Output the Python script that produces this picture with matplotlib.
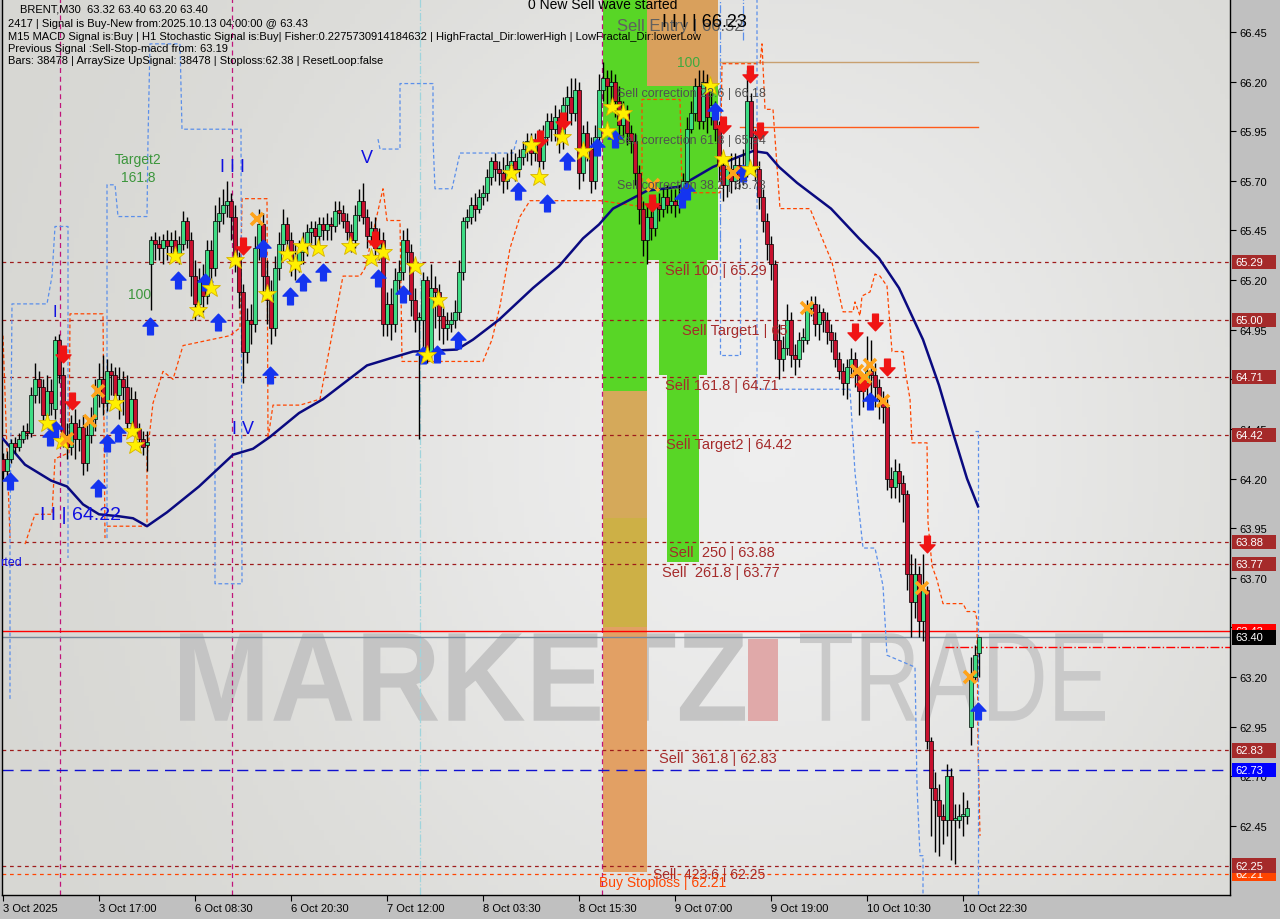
import numpy as np
import matplotlib
matplotlib.use("Agg")
import matplotlib.pyplot as plt
from matplotlib.patches import Rectangle, PathPatch
from matplotlib.path import Path
from matplotlib.textpath import TextPath
from matplotlib.font_manager import FontProperties
from matplotlib.transforms import blended_transform_factory, Affine2D
from matplotlib.colors import LinearSegmentedColormap

plt.rcParams['font.family'] = ['Liberation Sans', 'DejaVu Sans']

# BRENT M30 candles (bar index 0 = 3 Oct)
opens = [64.30, 64.24, 64.30, 64.38, 64.36, 64.40, 64.44, 64.43, 64.62, 64.70,
         64.66, 64.52, 64.64, 64.55, 64.90, 64.72, 64.42, 64.36, 64.48, 64.40,
         64.46, 64.28, 64.42, 64.50, 64.62, 64.70, 64.58, 64.74, 64.72, 64.62,
         64.70, 64.66, 64.48, 64.60, 64.45, 64.40, 64.37,
         65.28, 65.40, 65.38, 65.36, 65.40, 65.37, 65.40, 65.33, 65.38, 65.50,
         65.40, 65.22, 65.08, 65.20, 65.12, 65.35, 65.26, 65.50, 65.54, 65.58,
         65.60, 65.52, 65.30, 65.14, 64.84, 65.00, 64.98, 65.36, 65.48, 65.22,
         65.10, 64.96, 65.26, 65.38, 65.48, 65.40, 65.30, 65.28, 65.34, 65.38,
         65.44, 65.46, 65.42, 65.48, 65.45, 65.48, 65.47, 65.55, 65.54, 65.50,
         65.44, 65.40, 65.53, 65.60, 65.52, 65.42, 65.46, 65.36, 65.40, 64.98,
         65.08, 64.98, 65.20, 65.24, 65.40, 65.34, 65.10, 65.00, 65.00, 65.20,
         64.84, 65.16, 65.14, 65.02, 64.96, 64.98, 65.00, 65.04, 65.24, 65.50,
         65.52, 65.58, 65.56, 65.62, 65.64, 65.72, 65.80, 65.76, 65.74, 65.70,
         65.78, 65.80, 65.76, 65.82, 65.86, 65.90, 65.84, 65.88, 65.80, 65.92,
         66.00, 65.96, 66.02, 65.90, 66.08, 66.12, 66.04, 66.16, 65.74, 65.94,
         65.86, 65.70, 65.92, 66.16, 66.22, 66.18, 66.20, 66.10, 65.98, 66.04,
         65.94, 65.90, 65.74, 65.56, 65.40, 65.52, 65.46, 65.58, 65.56, 65.62,
         65.58, 65.60, 65.58, 65.62, 65.70, 65.96, 66.04, 66.18, 66.00, 66.20,
         66.02, 66.08, 65.96, 65.78, 65.68, 65.76, 65.70, 65.78, 65.72, 65.76,
         66.10, 65.92, 65.76, 65.62, 65.50, 65.38, 65.28, 64.90, 64.80, 64.86,
         65.00, 64.82, 64.80, 64.90, 64.90, 65.06, 65.08, 64.98, 65.04, 65.00,
         64.94, 64.90, 64.80, 64.74, 64.68, 64.76, 64.80, 64.72, 64.64, 64.68,
         64.74, 64.72, 64.66, 64.60, 64.56, 64.20, 64.16, 64.24, 64.18, 64.12,
         63.72, 63.58, 63.72, 63.48, 63.64, 62.88, 62.64, 62.58, 62.50, 62.48,
         62.70, 62.48, 62.48, 62.50, 62.50, 62.95, 63.20, 63.32]
closes = [64.24, 64.30, 64.38, 64.36, 64.40, 64.44, 64.43, 64.62, 64.70, 64.66,
          64.52, 64.64, 64.58, 64.90, 64.72, 64.42, 64.36, 64.48, 64.40, 64.46,
          64.28, 64.42, 64.50, 64.62, 64.70, 64.58, 64.74, 64.72, 64.62, 64.70,
          64.66, 64.48, 64.60, 64.45, 64.40, 64.36, 64.38,
          65.40, 65.38, 65.36, 65.40, 65.37, 65.40, 65.33, 65.38, 65.50, 65.40,
          65.22, 65.08, 65.20, 65.12, 65.35, 65.26, 65.50, 65.54, 65.58, 65.60,
          65.52, 65.30, 65.14, 64.84, 65.00, 64.98, 65.36, 65.48, 65.22, 65.10,
          64.96, 65.26, 65.38, 65.48, 65.40, 65.30, 65.28, 65.34, 65.38, 65.44,
          65.46, 65.42, 65.48, 65.45, 65.48, 65.47, 65.55, 65.54, 65.50, 65.44,
          65.40, 65.53, 65.60, 65.52, 65.42, 65.46, 65.36, 65.40, 64.98, 65.08,
          64.98, 65.20, 65.24, 65.40, 65.34, 65.10, 65.00, 65.00, 65.20, 64.84,
          65.16, 65.14, 65.02, 64.96, 64.98, 65.00, 65.04, 65.24, 65.50, 65.52,
          65.58, 65.56, 65.62, 65.64, 65.72, 65.80, 65.76, 65.74, 65.70, 65.78,
          65.80, 65.76, 65.82, 65.86, 65.90, 65.84, 65.88, 65.80, 65.92, 66.00,
          65.96, 66.02, 65.90, 66.08, 66.12, 66.04, 66.16, 65.74, 65.94, 65.86,
          65.70, 65.92, 66.16, 66.22, 66.18, 66.20, 66.10, 65.98, 66.04, 65.94,
          65.90, 65.74, 65.56, 65.40, 65.52, 65.46, 65.58, 65.56, 65.62, 65.58,
          65.60, 65.58, 65.62, 65.70, 65.96, 66.04, 66.18, 66.00, 66.20, 66.02,
          66.08, 65.96, 65.78, 65.68, 65.76, 65.70, 65.78, 65.72, 65.76, 66.10,
          65.92, 65.76, 65.62, 65.50, 65.38, 65.28, 64.90, 64.80, 64.86, 65.00,
          64.82, 64.80, 64.90, 64.90, 65.06, 65.08, 64.98, 65.04, 65.00, 64.94,
          64.90, 64.80, 64.74, 64.68, 64.76, 64.80, 64.72, 64.64, 64.68, 64.74,
          64.72, 64.66, 64.60, 64.56, 64.20, 64.16, 64.24, 64.18, 64.12, 63.72,
          63.58, 63.72, 63.48, 63.64, 62.88, 62.64, 62.58, 62.50, 62.48, 62.70,
          62.48, 62.48, 62.50, 62.50, 62.54, 63.20, 63.31, 63.40]
highs = [64.33, 64.34, 64.40, 64.41, 64.43, 64.47, 64.48, 64.66, 64.78, 64.74,
         64.70, 64.72, 64.70, 64.92, 64.93, 64.76, 64.48, 64.52, 64.55, 64.50,
         64.52, 64.48, 64.56, 64.70, 64.78, 64.82, 64.80, 64.78, 64.76, 64.76,
         64.74, 64.72, 64.66, 64.64, 64.48, 64.44, 64.44,
         65.42, 65.44, 65.42, 65.43, 65.45, 65.44, 65.45, 65.42, 65.55, 65.52,
         65.44, 65.30, 65.26, 65.28, 65.40, 65.40, 65.58, 65.62, 65.66, 65.70,
         65.64, 65.58, 65.34, 65.18, 65.06, 65.08, 65.42, 65.56, 65.54, 65.30,
         65.20, 65.32, 65.44, 65.56, 65.52, 65.44, 65.38, 65.40, 65.44, 65.48,
         65.50, 65.50, 65.52, 65.52, 65.54, 65.52, 65.60, 65.60, 65.58, 65.54,
         65.48, 65.58, 65.66, 65.69, 65.56, 65.50, 65.52, 65.46, 65.44, 65.14,
         65.16, 65.26, 65.30, 65.45, 65.46, 65.38, 65.16, 65.04, 65.24, 65.22,
         65.28, 65.22, 65.18, 65.06, 65.04, 65.04, 65.10, 65.30, 65.52, 65.56,
         65.62, 65.64, 65.66, 65.68, 65.76, 65.82, 65.84, 65.80, 65.82, 65.84,
         65.86, 65.84, 65.86, 65.90, 65.94, 65.94, 65.94, 65.96, 65.98, 66.04,
         66.04, 66.08, 66.06, 66.12, 66.18, 66.22, 66.22, 66.20, 65.98, 66.00,
         65.92, 65.98, 66.24, 66.30, 66.26, 66.26, 66.24, 66.18, 66.10, 66.08,
         65.98, 65.94, 65.78, 65.60, 65.58, 65.60, 65.62, 65.64, 65.66, 65.68,
         65.66, 65.66, 65.68, 65.74, 66.02, 66.10, 66.22, 66.26, 66.26, 66.24,
         66.14, 66.10, 66.00, 65.84, 65.80, 65.84, 65.84, 65.82, 65.86, 66.26,
         66.14, 65.96, 65.80, 65.66, 65.54, 65.42, 65.30, 64.98, 64.92, 65.08,
         65.04, 64.88, 64.94, 64.96, 65.10, 65.12, 65.12, 65.08, 65.06, 65.04,
         64.98, 64.94, 64.84, 64.78, 64.80, 64.86, 64.84, 64.76, 64.72, 64.92,
         64.90, 64.78, 64.70, 64.64, 64.60, 64.26, 64.30, 64.28, 64.22, 64.14,
         63.82, 63.80, 63.76, 63.82, 63.66, 62.90, 62.72, 62.66, 62.56, 62.76,
         62.74, 62.56, 62.56, 62.62, 62.58, 63.30, 63.36, 63.40]
lows = [64.20, 64.21, 64.28, 64.33, 64.34, 64.38, 64.40, 64.41, 64.58, 64.58,
        64.45, 64.48, 64.52, 64.50, 64.68, 64.36, 64.30, 64.32, 64.30, 64.34,
        64.22, 64.24, 64.38, 64.44, 64.56, 64.52, 64.54, 64.62, 64.56, 64.50,
        64.52, 64.44, 64.42, 64.40, 64.34, 64.32, 64.24,
        65.05, 65.30, 65.30, 65.28, 65.30, 65.32, 65.30, 65.28, 65.35, 65.36,
        65.12, 65.00, 65.02, 65.04, 65.08, 65.18, 65.22, 65.44, 65.48, 65.52,
        65.40, 65.24, 65.06, 64.68, 64.78, 64.88, 64.94, 65.30, 65.10, 64.98,
        64.88, 64.92, 65.20, 65.34, 65.34, 65.22, 65.20, 65.24, 65.28, 65.32,
        65.38, 65.36, 65.38, 65.40, 65.40, 65.40, 65.44, 65.48, 65.46, 65.40,
        65.34, 65.36, 65.50, 65.48, 65.36, 65.38, 65.30, 65.30, 64.92, 64.92,
        64.90, 64.94, 65.14, 65.20, 65.28, 65.02, 64.94, 64.40, 64.82, 64.78,
        64.80, 64.96, 64.90, 64.88, 64.90, 64.94, 64.96, 65.00, 65.20, 65.46,
        65.48, 65.50, 65.54, 65.58, 65.60, 65.68, 65.70, 65.68, 65.64, 65.66,
        65.72, 65.70, 65.72, 65.78, 65.80, 65.78, 65.80, 65.74, 65.76, 65.88,
        65.90, 65.90, 65.84, 65.86, 66.00, 65.98, 66.00, 65.66, 65.70, 65.80,
        65.64, 65.66, 65.88, 66.10, 66.08, 66.10, 66.02, 65.92, 65.92, 65.88,
        65.84, 65.68, 65.48, 65.32, 65.28, 65.40, 65.42, 65.50, 65.52, 65.54,
        65.54, 65.52, 65.54, 65.58, 65.66, 65.94, 66.00, 65.96, 65.96, 65.94,
        65.98, 65.90, 65.70, 65.60, 65.62, 65.64, 65.66, 65.66, 65.68, 65.72,
        65.86, 65.70, 65.56, 65.44, 65.30, 65.20, 64.80, 64.70, 64.74, 64.82,
        64.76, 64.72, 64.76, 64.84, 64.88, 65.02, 64.92, 64.90, 64.94, 64.88,
        64.84, 64.76, 64.70, 64.62, 64.60, 64.72, 64.66, 64.52, 64.56, 64.60,
        64.60, 64.56, 64.50, 64.48, 64.14, 64.10, 64.10, 64.08, 63.98, 63.64,
        63.40, 63.50, 63.40, 63.38, 62.84, 62.40, 62.32, 62.30, 62.36, 62.40,
        62.28, 62.26, 62.44, 62.40, 62.46, 62.86, 63.18, 63.20]

# moving average (read at knots)
ma_idx = [0, 5.5, 12, 16, 20, 24, 29, 32.5, 36, 41, 49, 57.5, 62.5, 66.75, 74, 80, 91, 97.5,
          102.5, 113.5, 117.5, 124, 132.5, 139, 145, 149, 152.5, 161, 169, 177.5, 182.5,
          187.5, 191, 194, 198.5, 207, 214, 219, 224, 230, 234, 237.5, 241, 243.75]
ma_val = [64.40, 64.27, 64.19, 64.16, 64.07, 64.02, 64.01, 64.00, 63.96, 64.03, 64.16, 64.32,
          64.35, 64.41, 64.53, 64.60, 64.77, 64.81, 64.84, 64.85, 64.90, 65.00, 65.16, 65.27,
          65.41, 65.48, 65.56, 65.65, 65.67, 65.77, 65.81, 65.85, 65.84, 65.77, 65.69, 65.56,
          65.41, 65.31, 65.16, 64.90, 64.67, 64.43, 64.20, 64.06]

sell_levels = [65.29, 65.00, 64.71, 64.42, 63.88, 63.77, 62.83, 62.25]
buy_stop = 62.21
ask_line = 63.43
bid_line = 63.40
sl_line = 63.35
blue_line = 62.73

tick_pos = [0, 24, 48, 72, 96, 120, 144, 168, 192, 216, 240]
tick_lab = ["3 Oct 2025", "3 Oct 17:00", "6 Oct 08:30", "6 Oct 20:30", "7 Oct 12:00",
            "8 Oct 03:30", "8 Oct 15:30", "9 Oct 07:00", "9 Oct 19:00", "10 Oct 10:30",
            "10 Oct 22:30"]
yticks = [62.45, 62.70, 62.95, 63.20, 63.45, 63.70, 63.95, 64.20, 64.45, 64.70, 64.95,
          65.20, 65.45, 65.70, 65.95, 66.20, 66.45]

# signal markers (bar, price)
star_x = [11, 14.75, 28, 32.25, 33, 43, 48.75, 52, 58, 66, 71, 73, 74.75, 78.75, 86.75, 92, 95,
          103, 108.75, 106, 127, 132, 134, 139.75, 145, 151, 152.25, 155, 176.75, 180, 186.75]
star_y = [64.48, 64.39, 64.58, 64.44, 64.37, 65.32, 65.05, 65.16, 65.30, 65.13, 65.33, 65.28,
          65.37, 65.36, 65.37, 65.31, 65.34, 65.27, 65.10, 64.82, 65.74, 65.88, 65.72, 65.92,
          65.85, 65.95, 66.07, 66.04, 66.18, 65.81, 65.76]
cross_x = [16, 21.75, 23.75, 63.5, 162.5, 182.5, 201, 213.5, 215.5, 216.75, 220, 229.75, 241.75]
cross_y = [64.40, 64.49, 64.64, 65.51, 65.68, 65.74, 65.06, 64.74, 64.71, 64.77, 64.59, 63.65, 63.20]
up_x = [1.75, 11.75, 13, 23.75, 26, 28.75, 36.75, 43.75, 50.5, 53.75, 65, 71.75, 66.75, 75, 80,
        93.75, 100, 105, 108.5, 113.75, 128.75, 136, 141, 148.5, 153, 169.75, 171, 178, 185,
        216.75, 243.75]
up_y = [64.19, 64.41, 64.45, 64.15, 64.38, 64.43, 64.97, 65.20, 65.19, 64.99, 65.36, 65.12,
        64.72, 65.19, 65.24, 65.21, 65.13, 64.82, 64.83, 64.90, 65.65, 65.59, 65.80, 65.87,
        65.91, 65.61, 65.65, 66.05, 65.74, 64.59, 63.03]
dn_x = [15, 17.25, 60, 93, 134.25, 140, 162.25, 180, 186.75, 189.25, 213, 218, 221, 215, 231]
dn_y = [64.83, 64.59, 65.37, 65.40, 65.91, 66.00, 65.59, 65.98, 66.24, 65.95, 64.94, 64.99,
        64.76, 64.68, 63.87]

# trailing bands (bar, price)
orange_a = [(0, 64.92), (1.75, 63.90)]
orange_b = [(5.5, 63.87), (8, 64.02), (12.25, 64.02), (13, 64.30), (16.5, 64.33), (16.75, 65.03),
            (25, 65.03), (25.5, 63.90)]
orange_c = [(26, 63.96), (36, 63.96), (36, 64.31), (37.5, 64.58), (40, 64.74), (42.5, 64.70),
            (45, 64.87), (56.75, 64.92), (59.25, 64.96), (59.75, 65.61), (66, 65.61),
            (66.25, 64.40), (67.5, 64.57), (74.25, 64.57), (79.25, 64.60), (85, 65.22),
            (89.25, 65.22), (90.5, 65.26), (95, 65.66), (96, 65.50), (99.25, 65.50),
            (99.75, 64.79), (120, 64.79), (122.25, 64.90), (124.25, 65.07), (126.75, 65.36),
            (129.25, 65.52), (131.75, 65.60), (149.25, 65.60), (159.75, 65.57), (159.75, 66.11),
            (169.25, 66.11), (169.75, 65.64), (179.25, 65.64), (179.75, 66.29), (189.25, 66.29),
            (189.75, 66.39), (190.5, 66.06), (192.5, 66.06), (194.25, 65.56), (201.75, 65.56),
            (207.25, 65.29), (210, 65.04), (212.5, 65.04), (213, 65.09), (214.25, 65.02),
            (214.75, 65.12), (216.75, 65.14), (218, 65.23), (219.25, 65.22), (221, 65.17),
            (222.25, 64.84), (225, 64.84), (225.5, 64.75), (226.75, 64.60), (227.25, 64.38),
            (231, 64.38), (231.25, 63.98), (232.25, 63.76), (233.5, 63.69), (235, 63.57),
            (240, 63.57), (241, 63.53), (243, 63.53), (243.5, 63.49), (243.75, 62.85),
            (244.25, 62.40)]
blue_a = [(1.75, 63.09), (1.75, 63.90), (2.25, 65.08), (11, 65.08), (12.25, 65.22), (13, 65.47),
          (16.25, 65.47), (16.25, 63.80)]
blue_b = [(26, 63.90), (26, 65.68), (28, 65.68), (28.75, 65.52), (36, 65.52), (36.25, 65.91),
          (36.75, 66.39), (44.25, 66.39), (44.75, 65.96), (59.5, 65.96), (59.75, 63.67),
          (53, 63.67), (53, 64.40)]
blue_c = [(93.75, 65.91), (94.25, 65.86), (99.25, 65.86), (99.25, 66.19), (107.5, 66.19),
          (107.5, 65.91), (108, 65.66), (112.25, 65.66), (114.25, 65.84), (127.5, 65.84),
          (128.5, 65.91)]
blue_d = [(179.25, 65.41), (179.25, 64.82), (184.25, 64.82), (184.25, 65.41)]
blue_e = [(188.5, 66.62), (188.5, 64.65), (211.75, 64.65), (213, 64.23), (215, 63.85), (218, 63.85),
          (220, 63.66), (221, 63.31), (228, 63.25), (228.5, 62.65), (229.25, 62.30), (230, 62.30),
          (230, 62.08)]
blue_f = [(243, 64.44), (243.75, 64.44), (243.75, 62.08)]

X0, X1 = -0.25, 306.75
Y0, Y1 = 62.102, 66.616

fig = plt.figure(figsize=(12.8, 9.2), dpi=100, facecolor='#c0c0c0')
ax = fig.add_axes([2 / 1280, 24 / 920, 1228 / 1280, 896 / 920])
ax.set_xlim(X0, X1)
ax.set_ylim(Y0, Y1)

# light background with soft centre
gx, gy = np.meshgrid(np.linspace(0, 1, 240), np.linspace(0, 1, 180))
glow = np.exp(-(((gx - 0.62) / 0.42) ** 2 + ((gy - 0.5) / 0.65) ** 2))
bgmap = LinearSegmentedColormap.from_list('bg', ['#d7d7d3', '#eeeeee'])
ax.imshow(glow, extent=(X0, X1, Y0, Y1), aspect='auto', cmap=bgmap, origin='lower', zorder=0)

# watermark
def word(s, i0, i1, p0, p1, color, weight='bold'):
    tp = TextPath((0, 0), s, size=100, prop=FontProperties(family='Liberation Sans', weight=weight))
    bb = tp.get_extents()
    tr = Affine2D().translate(-bb.x0, -bb.y0).scale((i1 - i0) / bb.width, (p1 - p0) / bb.height).translate(i0, p0)
    ax.add_patch(PathPatch(tr.transform_path(tp), fc=color, ec='none', zorder=1))

word("MARKETZ", 44.25, 185.5, 62.98, 63.42, '#c4c4c4')
ax.add_patch(Rectangle((186.25, 62.98), 7.5, 0.41, fc='#e0a9a9', ec='none', zorder=1))
word("TRADE", 199.25, 275.5, 62.98, 63.42, '#c9c9c9', weight='normal')

# fib zone columns
def zone(i0, i1, p0, p1, c):
    ax.add_patch(Rectangle((i0, p0), i1 - i0, p1 - p0, fc=c, ec='none', zorder=1.5))

zone(150, 161, 64.64, Y1, '#58d626')
zone(161, 178.75, 66.18, Y1, '#d9a05c')
zone(161, 178.75, 65.30, 66.18, '#58d626')
zone(164, 176, 64.72, 65.30, '#58d626')
zone(166, 174, 63.78, 64.72, '#58d626')
zone(150, 161, 64.0, 64.64, '#d5a95a')
zone(150, 161, 63.45, 64.0, '#cdb046')
zone(150, 161, 62.22, 63.45, '#e2a064')

# vertical separators
for v in [14.25, 57.25, 149.75]:
    ax.axvline(v, color='#c0157a', lw=0.9, ls=(0, (4, 3)), zorder=2)
ax.axvline(104.25, color='#9fd4dc', lw=0.9, ls='-.', zorder=2)
ax.plot([179.25, 179.25], [65.41, Y1], color='#5b8fea', lw=0.9, ls='-.', zorder=2)
ax.plot([185, 185], [66.41, Y1], color='#5b8fea', lw=0.9, ls='-.', zorder=2)

# horizontal levels
for lv in sell_levels:
    ax.axhline(lv, color='#9e1b1b', lw=0.9, ls=(0, (3, 3)), zorder=2)
ax.axhline(buy_stop, color='#ff4500', lw=0.9, ls=(0, (3, 3)), zorder=2)
ax.axhline(blue_line, color='#1010d0', lw=1, ls=(0, (8, 5)), zorder=2)
ax.axhline(ask_line, color='#ff0000', lw=1, zorder=2)
ax.axhline(bid_line, color='#778899', lw=1, zorder=2)
ax.plot([235.5, X1], [sl_line, sl_line], color='#ff0000', lw=1, ls='-.', zorder=2)
ax.plot([179.25, 243.75], [66.30, 66.30], color='#c8a070', lw=1, zorder=2)
ax.plot([184.25, 243.75], [65.97, 65.97], color='#ff5a1a', lw=1, zorder=2)

# step bands
for pts in [orange_a, orange_b, orange_c]:
    a = np.array(pts)
    ax.plot(a[:, 0], a[:, 1], color='#ff4500', lw=0.9, ls=(0, (3, 2)), zorder=2.5)
for pts in [blue_a, blue_b, blue_c, blue_d, blue_e, blue_f]:
    a = np.array(pts)
    ax.plot(a[:, 0], a[:, 1], color='#5b8fea', lw=0.9, ls=(0, (3, 2)), zorder=2.5)

# moving average
ax.plot(ma_idx, ma_val, color='#0a0a80', lw=1.8, zorder=3)

# candles
o = np.array(opens); c = np.array(closes); h = np.array(highs); l = np.array(lows)
idx = np.arange(len(o))
top = np.maximum.reduce([h, o, c]); bot = np.minimum.reduce([l, o, c])
ax.vlines(idx, bot, top, color='black', lw=1, zorder=4)
up = c >= o
body = np.maximum(np.abs(c - o), 0.012)
ax.bar(idx[up], body[up], bottom=np.minimum(o, c)[up], width=0.8, color='#3ddc84',
       edgecolor='black', lw=0.5, zorder=4.5)
ax.bar(idx[~up], body[~up], bottom=np.minimum(o, c)[~up], width=0.8, color='#c8102e',
       edgecolor='black', lw=0.5, zorder=4.5)

# markers
arrow_up = Path([(0, 1), (-0.9, 0.05), (-0.35, 0.05), (-0.35, -1), (0.35, -1), (0.35, 0.05),
                 (0.9, 0.05), (0, 1)], closed=True)
arrow_dn = Path([(0, -1), (-0.9, -0.05), (-0.35, -0.05), (-0.35, 1), (0.35, 1), (0.35, -0.05),
                 (0.9, -0.05), (0, -1)], closed=True)
ax.plot(up_x, up_y, ls='none', marker=arrow_up, ms=12, mfc='#1434f0', mec='#1434f0', zorder=5)
ax.plot(dn_x, dn_y, ls='none', marker=arrow_dn, ms=12, mfc='#f01414', mec='#f01414', zorder=5)
ax.plot(star_x, star_y, ls='none', marker='*', ms=14, mfc='#fff000', mec='#d8b400', mew=0.6, zorder=5.2)
ax.plot(cross_x, cross_y, ls='none', marker='x', ms=8, mew=2.6, color='#ffa31a', zorder=5.3)

# chart labels
brown = '#a52a2a'
ax.text(131.25, 66.59, "0 New Sell wave started", fontsize=10, color='black', va='center', zorder=6, clip_on=True)
ax.text(153.5, 66.48, "Sell Entry | 66.52", fontsize=12, color='#606060', va='center', zorder=6)
ax.text(164.75, 66.505, "I I I | 66.23", fontsize=13, color='black', va='center', zorder=6)
ax.text(171.5, 66.30, "100", fontsize=10, color='#3faa3f', va='center', ha='center', zorder=6)
ax.text(153.5, 66.14, "Sell correction 23.6 | 66.18", fontsize=9, color='#505050', va='center', zorder=6)
ax.text(153.5, 65.905, "Sell correction 61.8 | 65.94", fontsize=9, color='#505050', va='center', zorder=6)
ax.text(153.5, 65.68, "Sell correction 38.2 | 65.73", fontsize=9, color='#505050', va='center', zorder=6)
ax.text(165.5, 65.25, "Sell 100 | 65.29", fontsize=10.5, color=brown, va='center', zorder=6)
ax.text(169.75, 64.95, "Sell Target1 | 65", fontsize=10.5, color=brown, va='center', zorder=6)
ax.text(165.5, 64.67, "Sell 161.8 | 64.71", fontsize=10.5, color=brown, va='center', zorder=6)
ax.text(165.75, 64.375, "Sell Target2 | 64.42", fontsize=10.5, color=brown, va='center', zorder=6)
ax.text(166.5, 63.83, "Sell  250 | 63.88", fontsize=10.5, color=brown, va='center', zorder=6)
ax.text(164.75, 63.73, "Sell  261.8 | 63.77", fontsize=10.5, color=brown, va='center', zorder=6)
ax.text(164, 62.79, "Sell  361.8 | 62.83", fontsize=10.5, color=brown, va='center', zorder=6)
ax.text(162.5, 62.21, "Sell  423.6 | 62.25", fontsize=10, color=brown, va='center', zorder=6)
ax.text(149, 62.17, "Buy Stoploss | 62.21", fontsize=10, color='#ff4500', va='center', zorder=6)
ax.text(33.75, 65.81, "Target2", fontsize=10, color='#3c963c', ha='center', va='center', zorder=6)
ax.text(33.75, 65.72, "161.8", fontsize=10, color='#3c963c', ha='center', va='center', zorder=6)
ax.text(34.25, 65.13, "100", fontsize=10, color='#3c963c', ha='center', va='center', zorder=6)
ax.text(13, 65.04, "I", fontsize=12, color='#1010e0', ha='center', va='center', zorder=6)
ax.text(57.25, 65.77, "I I I", fontsize=13, color='#1010e0', ha='center', va='center', zorder=6)
ax.text(91, 65.82, "V", fontsize=13, color='#1010e0', ha='center', va='center', zorder=6)
ax.text(60, 64.45, "I V", fontsize=13, color='#1010e0', ha='center', va='center', zorder=6)
ax.text(9.25, 64.02, "I I | 64.22", fontsize=14, color='#1010e0', va='center', zorder=6)
ax.text(-0.75, 63.78, "rted", fontsize=9, color='#1010e0', va='center', zorder=6)

# header
head = [(20, 10, "BRENT,M30  63.32 63.40 63.20 63.40"),
        (8, 24, "2417 | Signal is Buy-New from:2025.10.13 04:00:00 @ 63.43"),
        (8, 37, "M15 MACD Signal is:Buy | H1 Stochastic Signal is:Buy| Fisher:0.2275730914184632 | "
                "HighFractal_Dir:lowerHigh | LowFractal_Dir:lowerLow"),
        (8, 49, "Previous Signal :Sell-Stop-macd from: 63.19"),
        (8, 61, "Bars: 38478 | ArraySize UpSignal: 38478 | Stoploss:62.38 | ResetLoop:false")]
for hx, hy, s in head:
    fig.text(hx / 1280, 1 - hy / 920, s, fontsize=8, color='black', va='center', zorder=7)

# axes styling
ax.set_xticks(tick_pos)
ax.set_xticklabels(tick_lab)
for t in ax.get_xticklabels():
    t.set_ha('left')
ax.yaxis.tick_right()
ax.set_yticks(yticks)
ax.set_yticklabels([f"{v:.2f}" for v in yticks])
ax.tick_params(axis='x', length=4, labelsize=8, pad=2, colors='black')
ax.tick_params(axis='y', length=4, labelsize=8, pad=3, colors='black')
for s in ['left', 'bottom', 'right']:
    ax.spines[s].set_color('black')
    ax.spines[s].set_linewidth(1)
ax.spines['top'].set_visible(False)

# price tags on the right scale
trans = blended_transform_factory(ax.transAxes, ax.transData)
def tag(p, bg, z):
    ax.add_patch(Rectangle((1.0016, p - 0.036), 0.036, 0.072, transform=trans, fc=bg, ec='none',
                           clip_on=False, zorder=z))
    ax.text(1.0045, p, f"{p:.2f}", transform=trans, color='white', fontsize=8, va='center',
            ha='left', clip_on=False, zorder=z + 0.5)

for lv in sell_levels:
    if lv != 62.25:
        tag(lv, '#a52a2a', 10)
tag(buy_stop, '#ff4500', 10)
tag(62.25, '#a52a2a', 11)
tag(blue_line, '#0000ff', 10)
tag(ask_line, '#ff0000', 10)
tag(bid_line, '#000000', 11)

fig.savefig("out.png", dpi=100, facecolor=fig.get_facecolor())
